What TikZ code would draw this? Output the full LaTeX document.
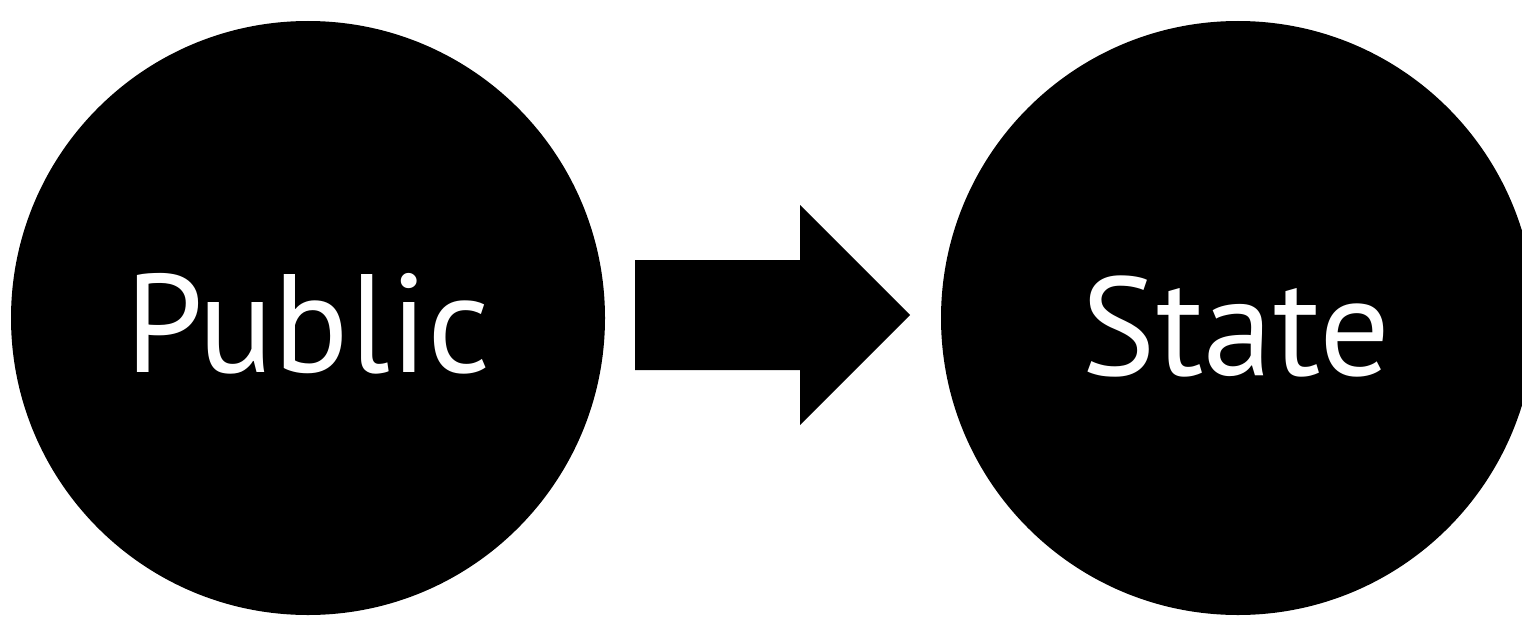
\documentclass[tikz,border=0pt]{standalone}
\usepackage{fontspec}
\setmainfont{PT Sans}
\begin{document}
\begin{tikzpicture}[x=1pt,y=-1pt,
  disc/.style={circle,fill=black,minimum size=594pt,inner sep=0pt,draw=none},
  lbl/.style={text=white,font=\fontsize{140}{140}\selectfont,anchor=base,inner sep=0pt}]
\useasboundingbox (0,0) rectangle (1522,626);
\clip (0,0) rectangle (1522,626);
\node[disc] (pub) at (308,318) {};
\node[disc] (sta) at (1238,318) {};
\node[lbl] (pubt) at (308,372) {Public};
\node[lbl] (stat) at (1236,375) {State};
\fill[black] (635,260) -- (800,260) -- (800,205) -- (910,315) -- (800,425) -- (800,370) -- (635,370) -- cycle;
\end{tikzpicture}
\end{document}
